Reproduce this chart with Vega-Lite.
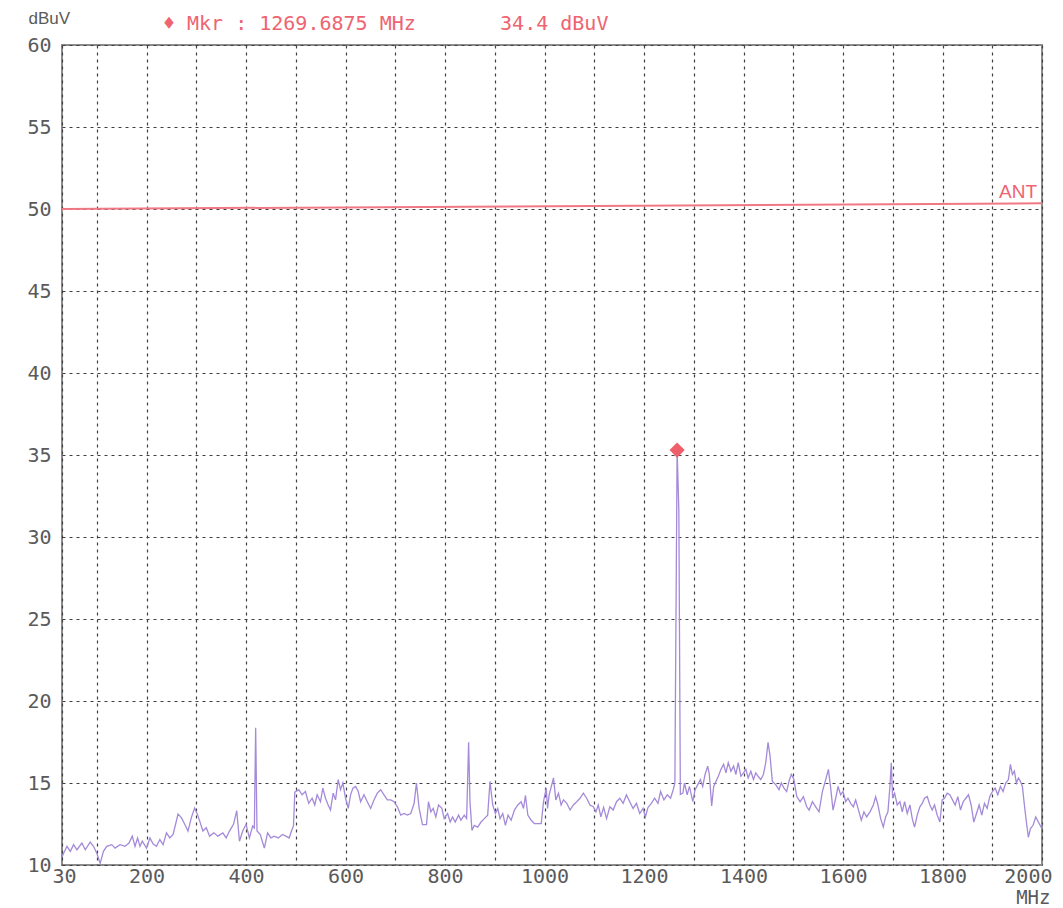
{
  "$schema": "https://vega.github.io/schema/vega-lite/v6.json",
  "width": 980,
  "height": 820,
  "autosize": {"type": "none"},
  "padding": {"left": 62, "top": 45, "right": 21, "bottom": 43},
  "background": "white",
  "config": {
    "view": {"stroke": "#8c8c8c", "strokeWidth": 2},
    "axis": {
      "domain": false,
      "ticks": false,
      "grid": true,
      "gridDash": [3, 4],
      "gridColor": "#404040",
      "gridWidth": 1.2,
      "labelFont": "DejaVu Sans Mono",
      "labelFontSize": 20,
      "labelColor": "#5a5a5a",
      "titleColor": "#5a5a5a",
      "titleFontWeight": "normal"
    }
  },
  "title": {
    "text": "♦\u00a0Mkr\u00a0:\u00a01269.6875\u00a0MHz\u00a0\u00a0\u00a0\u00a0\u00a0\u00a0\u00a034.4\u00a0dBuV",
    "anchor": "start",
    "dx": 136,
    "offset": -41,
    "baseline": "alphabetic",
    "font": "DejaVu Sans Mono",
    "fontSize": 20,
    "fontWeight": "normal",
    "color": "#ee6470"
  },
  "datasets": {
    "trace": [
      {"MHz":30,"dBuV":10.5},{"MHz":40,"dBuV":11.14},{"MHz":46.7,"dBuV":10.83},{"MHz":53.3,"dBuV":11.24},{"MHz":60,"dBuV":10.93},
      {"MHz":70,"dBuV":11.34},{"MHz":76.7,"dBuV":10.93},{"MHz":86.7,"dBuV":11.4},{"MHz":93.3,"dBuV":11.14},{"MHz":100,"dBuV":10.72},
      {"MHz":106.7,"dBuV":10.1},{"MHz":113.3,"dBuV":10.83},{"MHz":120,"dBuV":11.14},{"MHz":130,"dBuV":11.24},{"MHz":136.7,"dBuV":11.03},
      {"MHz":146.7,"dBuV":11.24},{"MHz":156.7,"dBuV":11.14},{"MHz":164.7,"dBuV":11.34},{"MHz":171.3,"dBuV":11.76},{"MHz":176.7,"dBuV":11.14},
      {"MHz":182,"dBuV":11.65},{"MHz":186.7,"dBuV":11.14},{"MHz":191.3,"dBuV":11.45},{"MHz":200,"dBuV":11.03},{"MHz":206.7,"dBuV":11.65},
      {"MHz":213.3,"dBuV":11.28},{"MHz":220,"dBuV":11.14},{"MHz":226.7,"dBuV":11.55},{"MHz":233.3,"dBuV":11.24},{"MHz":240,"dBuV":11.96},
      {"MHz":246.7,"dBuV":11.65},{"MHz":253.3,"dBuV":11.86},{"MHz":263.3,"dBuV":13.1},{"MHz":270,"dBuV":12.89},{"MHz":276.7,"dBuV":12.48},
      {"MHz":283.3,"dBuV":12.07},{"MHz":290,"dBuV":12.89},{"MHz":296.7,"dBuV":13.47},{"MHz":302,"dBuV":13.1},{"MHz":306.7,"dBuV":12.69},
      {"MHz":313.3,"dBuV":12.07},{"MHz":320,"dBuV":12.27},{"MHz":326.7,"dBuV":11.76},{"MHz":335.3,"dBuV":11.96},{"MHz":343.3,"dBuV":11.76},
      {"MHz":353.3,"dBuV":11.96},{"MHz":360,"dBuV":11.65},{"MHz":366.7,"dBuV":12.07},{"MHz":374.7,"dBuV":12.48},{"MHz":381.3,"dBuV":13.31},
      {"MHz":386.7,"dBuV":11.45},{"MHz":393.3,"dBuV":12.07},{"MHz":400,"dBuV":12.48},{"MHz":406.7,"dBuV":11.65},{"MHz":413.3,"dBuV":12.38},
      {"MHz":416.7,"dBuV":12.27},{"MHz":419.3,"dBuV":18.37},{"MHz":422,"dBuV":12.07},{"MHz":428.7,"dBuV":11.86},{"MHz":436.7,"dBuV":11.03},
      {"MHz":443.3,"dBuV":11.96},{"MHz":450,"dBuV":11.65},{"MHz":456.7,"dBuV":11.76},{"MHz":464.7,"dBuV":11.65},{"MHz":473.3,"dBuV":11.86},
      {"MHz":480,"dBuV":11.76},{"MHz":486.7,"dBuV":11.65},{"MHz":491.3,"dBuV":12.07},{"MHz":495.3,"dBuV":12.38},{"MHz":498,"dBuV":14.44},
      {"MHz":505.9,"dBuV":14.59},{"MHz":512.6,"dBuV":14.28},{"MHz":519.3,"dBuV":14.48},{"MHz":526,"dBuV":13.76},{"MHz":532.8,"dBuV":14.07},
      {"MHz":538.1,"dBuV":13.66},{"MHz":542.9,"dBuV":14.28},{"MHz":549.6,"dBuV":13.86},{"MHz":554.3,"dBuV":14.69},{"MHz":559.7,"dBuV":14.07},
      {"MHz":565,"dBuV":13.66},{"MHz":569.7,"dBuV":13.35},{"MHz":575.1,"dBuV":14.38},{"MHz":579.8,"dBuV":13.97},{"MHz":585.2,"dBuV":15.21},
      {"MHz":589.9,"dBuV":14.59},{"MHz":594.6,"dBuV":15.0},{"MHz":600,"dBuV":14.07},{"MHz":605.4,"dBuV":13.45},{"MHz":610.1,"dBuV":14.28},
      {"MHz":614.8,"dBuV":14.69},{"MHz":620.2,"dBuV":14.79},{"MHz":625.5,"dBuV":14.48},{"MHz":630.3,"dBuV":13.86},{"MHz":637,"dBuV":14.28},
      {"MHz":643.7,"dBuV":13.86},{"MHz":650.4,"dBuV":13.45},{"MHz":657.1,"dBuV":13.97},{"MHz":663.9,"dBuV":14.38},{"MHz":670.6,"dBuV":14.59},
      {"MHz":677.3,"dBuV":14.28},{"MHz":684,"dBuV":13.97},{"MHz":690.8,"dBuV":13.97},{"MHz":697.5,"dBuV":13.86},{"MHz":704.2,"dBuV":13.55},
      {"MHz":710.9,"dBuV":13.04},{"MHz":717.7,"dBuV":13.14},{"MHz":724.4,"dBuV":13.04},{"MHz":731.1,"dBuV":13.14},{"MHz":737.8,"dBuV":13.76},
      {"MHz":742.5,"dBuV":15.0},{"MHz":747.9,"dBuV":13.45},{"MHz":754.6,"dBuV":12.46},{"MHz":762.7,"dBuV":12.46},{"MHz":766.7,"dBuV":13.86},
      {"MHz":771.4,"dBuV":13.24},{"MHz":776.1,"dBuV":13.45},{"MHz":781.5,"dBuV":12.93},{"MHz":786.9,"dBuV":13.66},{"MHz":793.6,"dBuV":13.45},
      {"MHz":798.3,"dBuV":12.83},{"MHz":805.1,"dBuV":13.14},{"MHz":810.4,"dBuV":12.62},{"MHz":815.1,"dBuV":12.93},{"MHz":820.5,"dBuV":12.62},
      {"MHz":827.2,"dBuV":13.04},{"MHz":831.9,"dBuV":12.73},{"MHz":838.7,"dBuV":13.04},{"MHz":843.4,"dBuV":12.83},{"MHz":847.4,"dBuV":17.48},
      {"MHz":850.1,"dBuV":13.86},{"MHz":854.1,"dBuV":12.11},{"MHz":858.8,"dBuV":12.42},{"MHz":865.6,"dBuV":12.31},{"MHz":872.3,"dBuV":12.62},
      {"MHz":879,"dBuV":12.83},{"MHz":885.7,"dBuV":13.04},{"MHz":890.4,"dBuV":15.1},{"MHz":895.8,"dBuV":13.66},{"MHz":901.2,"dBuV":13.14},
      {"MHz":905.9,"dBuV":13.45},{"MHz":910.6,"dBuV":12.83},{"MHz":916,"dBuV":13.14},{"MHz":921.4,"dBuV":12.42},{"MHz":926.7,"dBuV":13.04},
      {"MHz":932.8,"dBuV":12.73},{"MHz":939.5,"dBuV":13.35},{"MHz":946.2,"dBuV":13.66},{"MHz":953,"dBuV":13.86},{"MHz":957.7,"dBuV":13.45},
      {"MHz":961.7,"dBuV":14.24},{"MHz":966.4,"dBuV":13.04},{"MHz":973.1,"dBuV":12.73},{"MHz":979.8,"dBuV":12.52},{"MHz":986.6,"dBuV":12.52},
      {"MHz":993.3,"dBuV":12.52},{"MHz":998,"dBuV":13.86},{"MHz":1003.4,"dBuV":14.69},{"MHz":1006,"dBuV":13.45},{"MHz":1009.3,"dBuV":14.28},
      {"MHz":1018,"dBuV":15.31},{"MHz":1022.7,"dBuV":13.97},{"MHz":1028,"dBuV":14.38},{"MHz":1033.3,"dBuV":13.66},{"MHz":1038,"dBuV":13.97},
      {"MHz":1044.7,"dBuV":13.76},{"MHz":1051.3,"dBuV":13.35},{"MHz":1058,"dBuV":13.66},{"MHz":1064.7,"dBuV":13.86},{"MHz":1071.3,"dBuV":14.07},
      {"MHz":1078,"dBuV":14.38},{"MHz":1084.7,"dBuV":14.07},{"MHz":1091.3,"dBuV":13.66},{"MHz":1098,"dBuV":13.55},{"MHz":1103.3,"dBuV":13.24},
      {"MHz":1108,"dBuV":13.66},{"MHz":1113.3,"dBuV":12.93},{"MHz":1118.7,"dBuV":13.51},{"MHz":1124.7,"dBuV":12.83},{"MHz":1131.3,"dBuV":13.55},
      {"MHz":1138,"dBuV":13.35},{"MHz":1144.7,"dBuV":13.86},{"MHz":1151.3,"dBuV":14.07},{"MHz":1158,"dBuV":13.76},{"MHz":1164.7,"dBuV":14.28},
      {"MHz":1171.3,"dBuV":13.86},{"MHz":1178,"dBuV":13.45},{"MHz":1184.7,"dBuV":13.76},{"MHz":1191.3,"dBuV":13.14},{"MHz":1198,"dBuV":13.45},
      {"MHz":1202.7,"dBuV":12.93},{"MHz":1208,"dBuV":13.51},{"MHz":1214.7,"dBuV":13.76},{"MHz":1221.3,"dBuV":14.07},{"MHz":1228,"dBuV":13.76},
      {"MHz":1233.3,"dBuV":14.48},{"MHz":1240,"dBuV":13.97},{"MHz":1246.7,"dBuV":14.28},{"MHz":1253.3,"dBuV":14.07},{"MHz":1258.7,"dBuV":14.59},
      {"MHz":1262,"dBuV":15.0},{"MHz":1266.5,"dBuV":35.3},{"MHz":1270,"dBuV":31.6},{"MHz":1273,"dBuV":14.3},{"MHz":1278,"dBuV":14.38},
      {"MHz":1281.3,"dBuV":15.0},{"MHz":1286.7,"dBuV":14.28},{"MHz":1291.3,"dBuV":14.79},{"MHz":1298,"dBuV":13.86},{"MHz":1302.7,"dBuV":14.59},
      {"MHz":1308,"dBuV":14.9},{"MHz":1313.3,"dBuV":15.21},{"MHz":1318,"dBuV":14.79},{"MHz":1322.7,"dBuV":15.52},{"MHz":1328,"dBuV":16.03},
      {"MHz":1331.3,"dBuV":15.52},{"MHz":1336,"dBuV":13.6},{"MHz":1340,"dBuV":14.79},{"MHz":1344.7,"dBuV":15.1},{"MHz":1349.3,"dBuV":15.41},
      {"MHz":1354.7,"dBuV":15.83},{"MHz":1360,"dBuV":16.14},{"MHz":1364.7,"dBuV":15.62},{"MHz":1369.3,"dBuV":16.24},{"MHz":1374.7,"dBuV":15.72},
      {"MHz":1380,"dBuV":16.03},{"MHz":1384.7,"dBuV":15.52},{"MHz":1389.3,"dBuV":16.24},{"MHz":1394.7,"dBuV":15.41},{"MHz":1400,"dBuV":15.62},
      {"MHz":1404.7,"dBuV":15.83},{"MHz":1409.3,"dBuV":15.31},{"MHz":1414.7,"dBuV":15.72},{"MHz":1420,"dBuV":15.21},{"MHz":1424.7,"dBuV":15.62},
      {"MHz":1429.3,"dBuV":15.41},{"MHz":1434.7,"dBuV":15.21},{"MHz":1440,"dBuV":15.52},{"MHz":1444.7,"dBuV":16.24},{"MHz":1449.3,"dBuV":17.48},
      {"MHz":1453.3,"dBuV":16.65},{"MHz":1458,"dBuV":15.1},{"MHz":1464.7,"dBuV":14.9},{"MHz":1471.3,"dBuV":14.59},{"MHz":1476,"dBuV":15.0},
      {"MHz":1481.3,"dBuV":14.69},{"MHz":1486.7,"dBuV":14.48},{"MHz":1491.3,"dBuV":15.1},{"MHz":1496,"dBuV":15.52},{"MHz":1501.3,"dBuV":15.21},
      {"MHz":1507,"dBuV":14.17},{"MHz":1513.7,"dBuV":13.86},{"MHz":1520.4,"dBuV":14.17},{"MHz":1527.1,"dBuV":13.55},{"MHz":1531.8,"dBuV":13.35},
      {"MHz":1538.5,"dBuV":13.86},{"MHz":1545.1,"dBuV":13.55},{"MHz":1551.8,"dBuV":13.24},{"MHz":1558.5,"dBuV":14.48},{"MHz":1565.2,"dBuV":15.21},
      {"MHz":1570.6,"dBuV":15.83},{"MHz":1575.2,"dBuV":14.69},{"MHz":1579.9,"dBuV":13.35},{"MHz":1585.3,"dBuV":14.07},{"MHz":1590,"dBuV":14.79},
      {"MHz":1595.3,"dBuV":14.28},{"MHz":1600,"dBuV":14.48},{"MHz":1605.4,"dBuV":13.86},{"MHz":1610,"dBuV":14.07},{"MHz":1615.4,"dBuV":13.76},
      {"MHz":1620.7,"dBuV":13.55},{"MHz":1625.4,"dBuV":13.97},{"MHz":1632.1,"dBuV":13.24},{"MHz":1636.8,"dBuV":12.73},{"MHz":1642.1,"dBuV":13.24},
      {"MHz":1647.5,"dBuV":12.93},{"MHz":1654.2,"dBuV":13.24},{"MHz":1660.9,"dBuV":13.66},{"MHz":1665.6,"dBuV":14.17},{"MHz":1670.2,"dBuV":13.66},
      {"MHz":1675.6,"dBuV":12.83},{"MHz":1681,"dBuV":12.31},{"MHz":1685.6,"dBuV":12.93},{"MHz":1690.3,"dBuV":13.24},{"MHz":1694.3,"dBuV":14.79},
      {"MHz":1697,"dBuV":16.24},{"MHz":1699.7,"dBuV":14.07},{"MHz":1703.7,"dBuV":14.38},{"MHz":1709,"dBuV":13.66},{"MHz":1714.4,"dBuV":13.86},
      {"MHz":1719.1,"dBuV":13.24},{"MHz":1723.8,"dBuV":13.86},{"MHz":1729.1,"dBuV":13.14},{"MHz":1734.5,"dBuV":13.66},{"MHz":1739.2,"dBuV":12.83},
      {"MHz":1743.8,"dBuV":12.31},{"MHz":1749.2,"dBuV":13.04},{"MHz":1754.5,"dBuV":13.55},{"MHz":1759.2,"dBuV":13.76},{"MHz":1763.9,"dBuV":14.07},
      {"MHz":1769.3,"dBuV":14.17},{"MHz":1774.6,"dBuV":13.66},{"MHz":1779.3,"dBuV":13.35},{"MHz":1784,"dBuV":13.66},{"MHz":1789.3,"dBuV":13.04},
      {"MHz":1794.7,"dBuV":12.62},{"MHz":1799.4,"dBuV":13.97},{"MHz":1804,"dBuV":14.07},{"MHz":1809.4,"dBuV":14.38},{"MHz":1814.7,"dBuV":14.28},
      {"MHz":1820.1,"dBuV":13.97},{"MHz":1825.5,"dBuV":13.66},{"MHz":1830.8,"dBuV":14.17},{"MHz":1836.2,"dBuV":13.35},{"MHz":1841.5,"dBuV":13.86},
      {"MHz":1846.9,"dBuV":14.07},{"MHz":1852.2,"dBuV":14.28},{"MHz":1857.6,"dBuV":13.66},{"MHz":1862.9,"dBuV":12.62},{"MHz":1868.3,"dBuV":13.14},
      {"MHz":1873.6,"dBuV":13.66},{"MHz":1879,"dBuV":13.04},{"MHz":1884.3,"dBuV":13.76},{"MHz":1889.7,"dBuV":13.45},{"MHz":1895,"dBuV":14.17},
      {"MHz":1900.4,"dBuV":14.48},{"MHz":1905.7,"dBuV":14.69},{"MHz":1911.1,"dBuV":14.28},{"MHz":1916.4,"dBuV":14.79},{"MHz":1921.8,"dBuV":14.48},
      {"MHz":1927.1,"dBuV":15.0},{"MHz":1932.5,"dBuV":15.21},{"MHz":1936.5,"dBuV":16.14},{"MHz":1940.5,"dBuV":15.52},{"MHz":1944.5,"dBuV":15.72},
      {"MHz":1948.5,"dBuV":15.0},{"MHz":1952.6,"dBuV":15.31},{"MHz":1956.6,"dBuV":15.1},{"MHz":1960.6,"dBuV":14.79},{"MHz":1964.6,"dBuV":13.66},
      {"MHz":1968.6,"dBuV":12.62},{"MHz":1972.6,"dBuV":11.69},{"MHz":1976.6,"dBuV":12.21},{"MHz":1982,"dBuV":12.42},{"MHz":1987.4,"dBuV":12.93},
      {"MHz":1992.7,"dBuV":12.62},{"MHz":1998.1,"dBuV":12.31},{"MHz":2000,"dBuV":12.5}
    ],
    "limit": [
      {"MHz": 30, "dBuV": 50.0, "label": ""},
      {"MHz": 2000, "dBuV": 50.35, "label": "ANT"}
    ],
    "marker": [
      {"MHz": 1266.5, "dBuV": 35.3}
    ]
  },
  "layer": [
    {
      "data": {"name": "trace"},
      "mark": {"type": "line", "color": "#a48ad8", "strokeWidth": 1.3, "interpolate": "linear"},
      "encoding": {
        "x": {
          "field": "MHz",
          "type": "quantitative",
          "scale": {"domain": [30, 2000], "nice": false, "zero": false},
          "axis": {
            "values": [30, 100, 200, 300, 400, 500, 600, 700, 800, 900, 1000, 1100, 1200, 1300, 1400, 1500, 1600, 1700, 1800, 1900, 2000],
            "format": "d",
            "labelExpr": "datum.value == 30 || datum.value % 200 == 0 ? datum.label : ''",
            "labelFlush": true,
            "labelFlushOffset": 10,
            "labelOverlap": false,
            "labelPadding": 1,
            "title": "MHz",
            "titleFont": "DejaVu Sans Mono",
            "titleFontSize": 19,
            "titleX": 988,
            "titleY": 38,
            "titleAlign": "right",
            "titleBaseline": "alphabetic"
          }
        },
        "y": {
          "field": "dBuV",
          "type": "quantitative",
          "scale": {"domain": [10, 60], "nice": false, "zero": false},
          "axis": {
            "values": [10, 15, 20, 25, 30, 35, 40, 45, 50, 55, 60],
            "labelPadding": 11,
            "title": "dBuV",
            "titleFont": "Liberation Sans",
            "titleFontSize": 17,
            "titleAngle": 0,
            "titleX": -34,
            "titleY": -27,
            "titleAlign": "left",
            "titleBaseline": "middle"
          }
        }
      }
    },
    {
      "data": {"name": "limit"},
      "mark": {"type": "line", "color": "#f07884", "strokeWidth": 2},
      "encoding": {
        "x": {"field": "MHz", "type": "quantitative"},
        "y": {"field": "dBuV", "type": "quantitative"}
      }
    },
    {
      "data": {"name": "limit"},
      "mark": {"type": "text", "align": "right", "baseline": "alphabetic", "dx": -5, "dy": -5, "font": "Liberation Sans", "fontSize": 19, "color": "#ee6470"},
      "encoding": {
        "x": {"field": "MHz", "type": "quantitative"},
        "y": {"field": "dBuV", "type": "quantitative"},
        "text": {"field": "label"}
      }
    },
    {
      "data": {"name": "marker"},
      "mark": {"type": "point", "shape": "diamond", "filled": true, "size": 230, "color": "#ef5f6a", "opacity": 1},
      "encoding": {
        "x": {"field": "MHz", "type": "quantitative"},
        "y": {"field": "dBuV", "type": "quantitative"}
      }
    }
  ]
}
